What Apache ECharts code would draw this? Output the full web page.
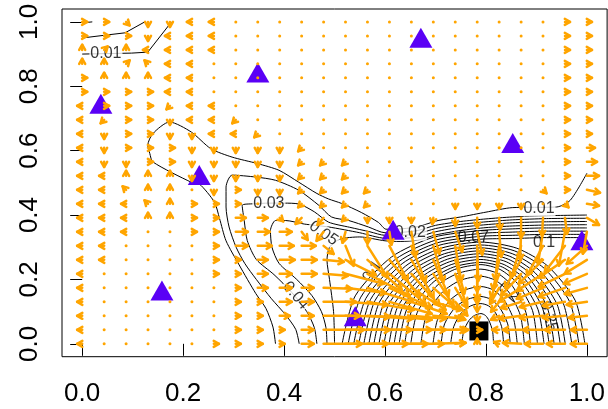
<!DOCTYPE html>
<html>
<head>
<meta charset="utf-8">
<script src="https://cdn.jsdelivr.net/npm/echarts@6/dist/echarts.min.js"></script>
<style>
  html, body { margin: 0; padding: 0; background: #fff; }
  #chart { width: 608px; height: 409px; }
</style>
</head>
<body>
<div id="chart"></div>
<script>
// tick positions on both axes
const axisTicks = [0, 0.2, 0.4, 0.6, 0.8, 1.0];

// 24 x 24 grid of the vector field (x left->right, y top->bottom)
const gridX = [0, 0.0435, 0.087, 0.1304, 0.1739, 0.2174, 0.2609, 0.3043, 0.3478, 0.3913, 0.4348, 0.4783,
  0.5217, 0.5652, 0.6087, 0.6522, 0.6957, 0.7391, 0.7826, 0.8261, 0.8696, 0.913, 0.9565, 1.0];
const gridY = [1.0, 0.9565, 0.913, 0.8696, 0.8261, 0.7826, 0.7391, 0.6957, 0.6522, 0.6087, 0.5652, 0.5217,
  0.4783, 0.4348, 0.3913, 0.3478, 0.3043, 0.2609, 0.2174, 0.1739, 0.1304, 0.087, 0.0435, 0];

// short arrows (only the head shows) in thousandths of a data unit
const shortArrows = {
  r: [10, 0], l: [-10, 0], u: [0, 16], d: [0, -16],
  ur: [7, 11], ul: [-7, 11], dr: [7, -11], dl: [-7, -11]
};

// one row per grid line from the top; '.' = no movement, 'u,v' = thousandths of a data unit
const arrowRows = [
  'r r dr d d l l . . . . . . . . . . . . . . . r r',
  'r r r d l l l . . . . . . . . . . . . . . . r r',
  'u ur u l l l l . . . . . . . . . . . . . . . r r',
  'u u ur ul l l . . . . . . . . . . . . . . . . r r',
  'r u u u l l . . . . . . . . . . . . . . . . r r',
  'r r r r l l . . . . . . . . . . . . . . . . r r',
  'l r r r dl l l . . . . . . . . . . . . . . . r r',
  'l dl r r d l l dl . . . . . . . . . . . . . . r r',
  'l d r r d d l l dl . . . . . . . . . . . . . r r',
  'l d r r r d d d d d dl . . . . . . . . . . . r 16,0',
  'l d d r r d d d d d dl dl dl . . . . . . . . . r 20,0',
  'l l u u u d d d d d dl dl dl . . . . . . . . . r 24,0',
  'l l ul u u . d r d d dl dl dl dl . . . . . . . dr r 26,-9',
  'l l l ul u r r r . . dl dl dl dl . . . d d d d . dr 24,-6',
  'l l l u u r r 20,0 20,0 dr -12,-19 -12,-22 dl d d d -2,-19 0,-25 0,-31 2,-37 0,-62 -2,-56 4,-50 24,-22',
  'l l l . . r r 24,0 24,0 24,0 12,-25 -14,-28 -6,-34 0,-37 4,-40 8,-78 12,-68 14,-62 10,-71 4,-78 -2,-87 -10,-99 -12,-105 -8,-68',
  'l l . . . . r 24,0 28,0 28,0 28,0 20,-25 16,-62 40,-99 36,-109 28,-112 20,-112 12,-109 2,-109 -8,-106 -20,-99 -32,-93 -40,-81 -40,-56',
  'l l . . . . r r 20,0 30,0 30,0 40,-6 60,-47 68,-93 60,-112 44,-118 30,-112 18,-105 0,-99 -12,-93 -32,-87 -48,-74 -52,-56 -44,-43',
  'l . . . . . r r 20,0 24,0 30,0 48,-6 76,-31 84,-68 72,-93 56,-99 40,-99 22,-93 0,-81 -16,-74 -40,-68 -52,-53 -52,-40 -46,-31',
  'l . . . . . . r 20,0 24,0 24,0 56,-3 80,-16 90,-43 84,-62 68,-68 50,-68 24,-62 0,-50 -18,-50 -44,-43 -52,-34 -52,-28 -44,-19',
  'l . . . . . . r r 24,0 24,0 64,0 84,-9 92,-25 84,-37 70,-37 58,-25 24,-43 0,-31 -16,-31 -40,-19 -46,-16 -44,-12 -40,-9',
  'l . . . . . . r r 20,0 24,0 72,0 88,-3 90,-9 84,-12 68,-9 60,-9 20,-12 0,-19 -16,-12 -44,-9 -46,-6 -44,-6 -36,-6',
  'l . . . . . . r r r 24,0 80,0 88,0 88,0 84,0 68,0 64,0 26,0 r -14,0 -36,0 -40,0 -40,0 -32,0',
  'l . . . . . r r r r 24,0 76,0 84,0 80,0 76,0 64,0 64,3 20,3 u -10,6 -36,3 -36,0 -36,0 -32,0'
];

// contour lines, outermost first
const contourLines = [
  [[0, 0.997], [0.02, 1.0]],
  [[0, 0.95], [0.042, 0.958], [0.085, 0.966], [0.124, 1.0]],
  [[0, 0.9], [0.098, 0.903], [0.13, 0.906], [0.177, 1.0]],
  [[1.0, 0.53], [0.967, 0.446], [0.94, 0.425], [0.852, 0.423], [0.8, 0.409], [0.75, 0.394], [0.705, 0.383], [0.665, 0.364],
   [0.62, 0.356], [0.602, 0.356], [0.587, 0.377], [0.553, 0.408], [0.514, 0.436], [0.488, 0.45], [0.465, 0.467], [0.429, 0.502],
   [0.39, 0.539], [0.347, 0.56], [0.297, 0.58], [0.255, 0.606], [0.216, 0.658], [0.173, 0.689], [0.14, 0.653], [0.13, 0.617],
   [0.134, 0.591], [0.14, 0.565], [0.216, 0.502], [0.232, 0.497], [0.262, 0.44], [0.272, 0.39], [0.285, 0.32], [0.311, 0.245],
   [0.344, 0.156], [0.364, 0.11], [0.378, 0.052], [0.383, 0]],
  [[1.0, 0.40], [0.92, 0.398], [0.852, 0.394], [0.8, 0.388], [0.75, 0.38], [0.7, 0.368], [0.665, 0.352], [0.63, 0.346],
   [0.6, 0.345], [0.567, 0.363], [0.528, 0.383], [0.494, 0.394], [0.469, 0.43], [0.429, 0.477], [0.383, 0.508], [0.344, 0.518],
   [0.297, 0.524], [0.285, 0.487], [0.285, 0.425], [0.291, 0.363], [0.305, 0.30], [0.322, 0.25], [0.345, 0.2], [0.375, 0.14],
   [0.403, 0.09], [0.423, 0.045], [0.43, 0]],
  [[1.0, 0.39], [0.92, 0.389], [0.852, 0.385], [0.8, 0.379], [0.75, 0.371], [0.7, 0.358], [0.665, 0.342], [0.63, 0.337],
   [0.6, 0.337], [0.57, 0.348], [0.53, 0.362], [0.488, 0.378], [0.46, 0.41], [0.43, 0.434], [0.4, 0.437], [0.37, 0.437],
   [0.34, 0.435], [0.317, 0.43], [0.321, 0.383], [0.327, 0.321], [0.345, 0.262], [0.38, 0.215], [0.415, 0.16], [0.445, 0.1],
   [0.46, 0.05], [0.465, 0]],
  [[1.0, 0.38], [0.92, 0.379], [0.852, 0.376], [0.8, 0.37], [0.75, 0.362], [0.7, 0.348], [0.665, 0.332], [0.63, 0.328],
   [0.6, 0.328], [0.55, 0.345], [0.488, 0.363], [0.44, 0.372], [0.403, 0.383], [0.383, 0.383], [0.373, 0.352], [0.376, 0.30],
   [0.39, 0.25], [0.425, 0.2], [0.455, 0.15], [0.474, 0.1], [0.483, 0.05], [0.485, 0]],
  [[1.0, 0.37], [0.92, 0.369], [0.852, 0.366], [0.8, 0.361], [0.75, 0.352], [0.7, 0.338], [0.665, 0.322], [0.63, 0.318],
   [0.6, 0.32], [0.55, 0.332], [0.51, 0.325], [0.49, 0.3], [0.485, 0.26], [0.49, 0.2], [0.498, 0.1], [0.5, 0]],
  [[0.515, 0], [0.541, 0.149], [0.613, 0.27], [0.696, 0.331], [0.79, 0.352], [0.852, 0.357], [0.92, 0.36], [1.0, 0.36]],
  [[0.527, 0], [0.552, 0.145], [0.621, 0.263], [0.7, 0.322], [0.79, 0.343], [0.852, 0.347], [0.92, 0.35], [1.0, 0.35]],
  [[0.538, 0], [0.562, 0.141], [0.628, 0.256], [0.704, 0.314], [0.79, 0.334], [0.852, 0.337], [0.92, 0.34], [1.0, 0.34]],
  [[0.548, 0], [0.571, 0.137], [0.634, 0.249], [0.707, 0.306], [0.79, 0.325], [0.852, 0.327], [0.92, 0.33], [1.0, 0.33]],
  [[0.558, 0], [0.58, 0.134], [0.641, 0.242], [0.711, 0.297], [0.79, 0.316], [0.861, 0.297], [0.922, 0.242], [0.977, 0.134], [0.996, 0]],
  [[0.568, 0], [0.589, 0.13], [0.647, 0.235], [0.714, 0.289], [0.79, 0.307], [0.856, 0.289], [0.915, 0.235], [0.966, 0.13], [0.984, 0]],
  [[0.578, 0], [0.598, 0.126], [0.654, 0.228], [0.718, 0.28], [0.79, 0.298], [0.852, 0.28], [0.906, 0.228], [0.953, 0.126], [0.97, 0]],
  [[0.588, 0], [0.607, 0.122], [0.66, 0.221], [0.721, 0.272], [0.79, 0.289], [0.847, 0.272], [0.897, 0.221], [0.941, 0.122], [0.957, 0]],
  [[0.598, 0], [0.616, 0.118], [0.667, 0.214], [0.724, 0.263], [0.79, 0.28], [0.844, 0.263], [0.891, 0.214], [0.932, 0.118], [0.947, 0]],
  [[0.608, 0], [0.625, 0.115], [0.673, 0.208], [0.728, 0.255], [0.79, 0.271], [0.84, 0.255], [0.883, 0.208], [0.921, 0.115], [0.935, 0]],
  [[0.618, 0], [0.634, 0.111], [0.679, 0.201], [0.731, 0.246], [0.79, 0.262], [0.836, 0.246], [0.877, 0.201], [0.912, 0.111], [0.925, 0]],
  [[0.628, 0], [0.643, 0.107], [0.686, 0.194], [0.735, 0.238], [0.79, 0.253], [0.833, 0.238], [0.87, 0.194], [0.903, 0.107], [0.915, 0]],
  [[0.639, 0], [0.653, 0.104], [0.693, 0.188], [0.738, 0.231], [0.79, 0.246], [0.828, 0.231], [0.862, 0.188], [0.892, 0.104], [0.902, 0]],
  [[0.651, 0], [0.664, 0.098], [0.701, 0.178], [0.743, 0.218], [0.79, 0.232], [0.824, 0.218], [0.853, 0.178], [0.879, 0.098], [0.888, 0]],
  [[0.671, 0], [0.682, 0.089], [0.714, 0.161], [0.749, 0.197], [0.79, 0.21], [0.819, 0.197], [0.845, 0.161], [0.868, 0.089], [0.876, 0]],
  [[0.695, 0], [0.704, 0.075], [0.729, 0.136], [0.758, 0.167], [0.79, 0.178], [0.815, 0.167], [0.836, 0.136], [0.855, 0.075], [0.862, 0]],
  [[0.711, 0], [0.718, 0.062], [0.739, 0.113], [0.763, 0.138], [0.79, 0.147], [0.81, 0.138], [0.827, 0.113], [0.843, 0.062], [0.848, 0]],
  [[0.73, 0], [0.736, 0.053], [0.751, 0.096], [0.77, 0.118], [0.79, 0.125], [0.805, 0.118], [0.819, 0.096], [0.831, 0.053], [0.835, 0]],
  [[0.752, 0], [0.756, 0.04], [0.766, 0.072], [0.777, 0.088], [0.79, 0.094], [0.799, 0.088], [0.806, 0.072], [0.813, 0.04], [0.815, 0]]
];

// contour labels: x, y, text, rotation, white gap behind
const contourLabels = [
  [0.047, 0.903, '0.01', 0, true],
  [0.905, 0.42, '0.01', 0, true],
  [0.65, 0.345, '0.02', 0, true],
  [0.37, 0.436, '0.03', 0, true],
  [0.478, 0.343, '0.05', -35, true],
  [0.423, 0.15, '0.04', -50, true],
  [0.775, 0.33, '0.07', 0, false],
  [0.915, 0.315, '0.1', 0, false],
  [0.575, 0.225, '0.1', 55, false],
  [0.845, 0.16, '0.2', -40, false],
  [0.925, 0.085, '0.25', -75, false]
];

// filled triangles and the black square
const triangles = [
  [0.037, 0.746], [0.348, 0.843], [0.671, 0.951], [0.853, 0.624], [0.232, 0.524],
  [0.158, 0.166], [0.616, 0.354], [0.541, 0.086], [0.99, 0.322]
];
const square = [0.786, 0.04];

const ORANGE = '#FFA500';
const FONT = '"Liberation Sans", Arial, Helvetica, sans-serif';

// arrows from the grid and the row strings
const arrowData = [];
arrowRows.forEach((row, i) => {
  row.trim().split(/\s+/).forEach((tok, j) => {
    let vec;
    if (tok === '.') vec = [0, 0];
    else if (shortArrows[tok]) vec = shortArrows[tok];
    else vec = tok.split(',').map(Number);
    arrowData.push([gridX[j], gridY[i], vec[0] / 1000, vec[1] / 1000]);
  });
});

function renderArrow (params, api) {
  const x = api.value(0);
  const y = api.value(1);
  const u = api.value(2);
  const v = api.value(3);
  const p0 = api.coord([x, y]);
  if (u === 0 && v === 0) {
    return { type: 'circle', shape: { cx: p0[0], cy: p0[1], r: 1.5 }, style: { fill: ORANGE } };
  }
  const p1 = api.coord([x + u, y + v]);
  const ang = Math.atan2(p1[1] - p0[1], p1[0] - p0[0]);
  const h = 6;
  const a = Math.PI / 6;
  const left = [p1[0] - h * Math.cos(ang - a), p1[1] - h * Math.sin(ang - a)];
  const right = [p1[0] - h * Math.cos(ang + a), p1[1] - h * Math.sin(ang + a)];
  const st = { stroke: ORANGE, lineWidth: 2.5, lineCap: 'round', lineJoin: 'round', fill: null };
  return {
    type: 'group',
    children: [
      { type: 'line', shape: { x1: p0[0], y1: p0[1], x2: p1[0], y2: p1[1] }, style: st },
      { type: 'polyline', shape: { points: [left, p1, right] }, style: st }
    ]
  };
}

const series = contourLines.map((pts, k) => ({
  type: 'line',
  data: pts,
  smooth: k < 3 ? false : 0.25,
  symbol: 'none',
  silent: true,
  z: 1,
  lineStyle: { color: '#000', width: 1 }
}));

series.push({
  type: 'scatter',
  z: 2,
  symbolSize: 0,
  silent: true,
  data: contourLabels.map(l => ({
    value: [l[0], l[1]],
    label: {
      show: true,
      position: 'inside',
      formatter: l[2],
      rotate: l[3],
      fontSize: 16,
      fontFamily: FONT,
      color: '#000',
      backgroundColor: l[4] ? '#fff' : 'transparent',
      padding: [0, 1]
    }
  }))
});

series.push({
  type: 'scatter',
  z: 3,
  symbol: 'triangle',
  symbolSize: [23, 20],
  silent: true,
  itemStyle: { color: '#5a00f5', opacity: 1 },
  data: triangles
});

series.push({
  type: 'scatter',
  z: 3,
  symbol: 'rect',
  symbolSize: 19,
  silent: true,
  itemStyle: { color: '#000', opacity: 1 },
  data: [square]
});

series.push({
  type: 'custom',
  z: 4,
  silent: true,
  clip: false,
  renderItem: renderArrow,
  data: arrowData
});

const axisCommon = {
  type: 'value',
  min: -0.04,
  max: 1.04,
  axisLine: { show: false },
  splitLine: { show: false },
  axisTick: { show: true, customValues: axisTicks, length: 12, lineStyle: { color: '#000', width: 1 } }
};

const chart = echarts.init(document.getElementById('chart'), null, { renderer: 'canvas' });
chart.setOption({
  animation: false,
  backgroundColor: '#fff',
  grid: { left: 62, top: 9, width: 548, height: 347.7, show: true, borderColor: '#000', borderWidth: 1 },
  xAxis: Object.assign({}, axisCommon, {
    axisLabel: { customValues: axisTicks, formatter: v => v.toFixed(1), fontSize: 26, fontFamily: FONT, color: '#000', margin: 24 }
  }),
  yAxis: Object.assign({}, axisCommon, {
    axisLabel: { customValues: axisTicks, formatter: v => v.toFixed(1), fontSize: 26, fontFamily: FONT, color: '#000', margin: 19, rotate: 90 }
  }),
  series: series
});
</script>
</body>
</html>
